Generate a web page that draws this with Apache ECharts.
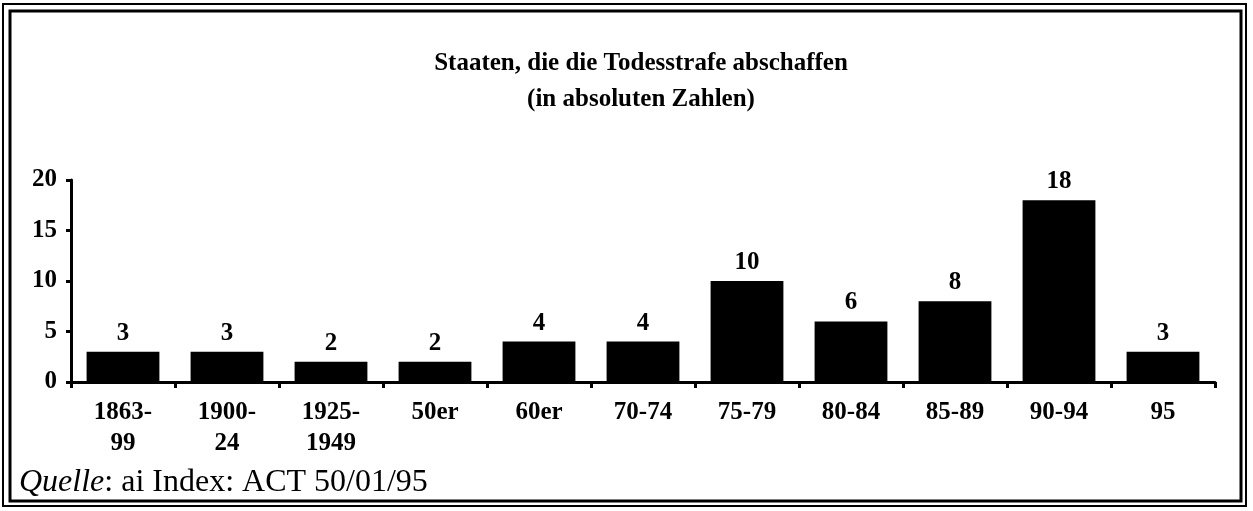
<!DOCTYPE html>
<html>
<head>
<meta charset="utf-8">
<script src="https://cdn.jsdelivr.net/npm/echarts@6/dist/echarts.min.js"></script>
<style>
html,body{margin:0;padding:0;background:#fff;}
#chart{width:1253px;height:511px;}
</style>
</head>
<body>
<div id="chart"></div>
<script>
var categories = ['1863-\n99', '1900-\n24', '1925-\n1949', '50er', '60er', '70-74', '75-79', '80-84', '85-89', '90-94', '95'];
var values = [3, 3, 2, 2, 4, 4, 10, 6, 8, 18, 3];
var yTicks = { min: 0, max: 20, interval: 5 };
var titleLines = ['Staaten, die die Todesstrafe abschaffen', '(in absoluten Zahlen)'];
var sourceItalic = 'Quelle';
var sourceRest = ': ai Index: ACT 50/01/95';

var FONT = '"Liberation Serif", "Times New Roman", serif';
var chart = echarts.init(document.getElementById('chart'));
chart.setOption({
  animation: false,
  backgroundColor: '#fff',
  grid: { left: 71, right: 38, top: 180, bottom: 129 },
  xAxis: {
    type: 'category',
    data: categories,
    axisLine: { lineStyle: { color: '#000', width: 3 } },
    axisTick: { show: true, length: 6, lineStyle: { color: '#000', width: 3 } },
    axisLabel: { color: '#000', fontFamily: FONT, fontWeight: 'bold', fontSize: 25, lineHeight: 31, margin: 15 }
  },
  yAxis: {
    type: 'value',
    min: yTicks.min, max: yTicks.max, interval: yTicks.interval,
    splitLine: { show: false },
    axisLine: { show: true, lineStyle: { color: '#000', width: 3 } },
    axisTick: { show: true, length: 5, lineStyle: { color: '#000', width: 3 } },
    axisLabel: { color: '#000', fontFamily: FONT, fontWeight: 'bold', fontSize: 25, margin: 14 }
  },
  series: [{
    type: 'bar',
    data: values,
    barWidth: '70%',
    itemStyle: { color: '#000' },
    label: { show: true, position: 'top', distance: 6, color: '#000', fontFamily: FONT, fontWeight: 'bold', fontSize: 25 }
  }],
  graphic: [
    { type: 'rect', shape: { x: 3, y: 4, width: 1243, height: 502 }, style: { fill: 'none', stroke: '#000', lineWidth: 2 }, silent: true },
    { type: 'rect', shape: { x: 10, y: 11, width: 1231, height: 490 }, style: { fill: 'none', stroke: '#000', lineWidth: 3 }, silent: true },
    { type: 'text', x: 641, y: 64, style: { text: titleLines[0], fill: '#000', font: 'bold 25px ' + FONT, textAlign: 'center', textVerticalAlign: 'middle' } },
    { type: 'text', x: 641, y: 100, style: { text: titleLines[1], fill: '#000', font: 'bold 25px ' + FONT, textAlign: 'center', textVerticalAlign: 'middle' } },
    { type: 'text', x: 19, y: 483, style: {
        text: '{i|' + sourceItalic + '}{n|' + sourceRest + '}',
        textVerticalAlign: 'middle',
        rich: {
          i: { fontFamily: FONT, fontStyle: 'italic', fontSize: 32, fill: '#000', color: '#000' },
          n: { fontFamily: FONT, fontSize: 32, fill: '#000', color: '#000' }
        }
    } }
  ]
});
</script>
</body>
</html>
